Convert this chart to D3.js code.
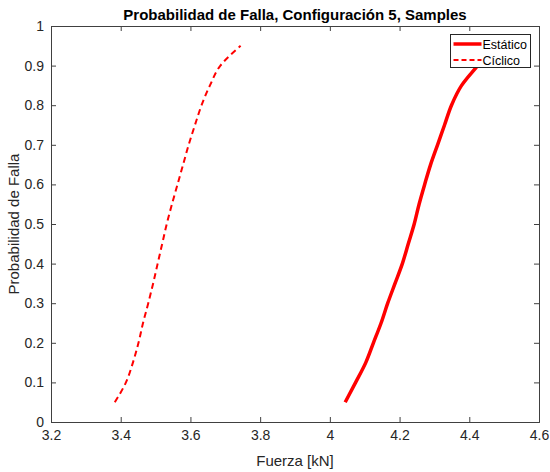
<!DOCTYPE html>
<html lang="en">
<head>
<meta charset="UTF-8">
<title>Probabilidad de Falla</title>
<script src="https://d3js.org/d3.v7.min.js"></script>
<style>
    body { margin: 0; background: #fff; }
    svg { display: block; font-family: "Liberation Sans", Arial, sans-serif; }
    .tick text { fill: #262626; font-size: 14px; }
</style>
</head>
<body>
<div id="chart"></div>
<script>
    // probabilities shared by both series
    const probs = [0.05, 0.10, 0.15, 0.20, 0.25, 0.30, 0.35, 0.40, 0.45, 0.50,
                   0.55, 0.60, 0.65, 0.70, 0.75, 0.80, 0.85, 0.90, 0.95];
    const estaticoX = [4.044, 4.074, 4.103, 4.125, 4.147, 4.166, 4.187, 4.208, 4.225, 4.242,
                       4.256, 4.272, 4.289, 4.309, 4.329, 4.349, 4.378, 4.424, 4.469];
    const ciclicoX = [3.383, 3.415, 3.435, 3.451, 3.464, 3.479, 3.493, 3.506, 3.519, 3.532,
                      3.547, 3.563, 3.579, 3.595, 3.613, 3.632, 3.656, 3.686, 3.744];
    const xTicks = [3.2, 3.4, 3.6, 3.8, 4, 4.2, 4.4, 4.6];
    const yTicks = [0, 0.1, 0.2, 0.3, 0.4, 0.5, 0.6, 0.7, 0.8, 0.9, 1];

    const width = 550, height = 472;
    const margin = {top: 26, right: 11, bottom: 50, left: 51};
    const iw = width - margin.left - margin.right;
    const ih = height - margin.top - margin.bottom;

    const svg = d3.select("#chart").append("svg")
        .attr("width", width).attr("height", height);

    const x = d3.scaleLinear().domain([3.2, 4.6]).range([0, iw]);
    const y = d3.scaleLinear().domain([0, 1]).range([ih, 0]);

    const g = svg.append("g").attr("transform", `translate(${margin.left},${margin.top})`);

    const axisColor = "#404040";

    // axes with inward ticks, box on
    g.append("g").attr("transform", `translate(0,${ih})`)
        .call(d3.axisBottom(x).tickValues(xTicks).tickSize(-5).tickPadding(8).tickFormat(d3.format("")));
    g.append("g")
        .call(d3.axisLeft(y).tickValues(yTicks).tickSize(-5).tickPadding(7).tickFormat(d3.format("")));
    g.append("g").call(d3.axisTop(x).tickValues(xTicks).tickSize(-5).tickFormat(""));
    g.append("g").attr("transform", `translate(${iw},0)`)
        .call(d3.axisRight(y).tickValues(yTicks).tickSize(-5).tickFormat(""));
    g.selectAll(".domain, .tick line").attr("stroke", axisColor);

    const line = d3.line().curve(d3.curveMonotoneY).x(d => x(d[0])).y(d => y(d[1]));

    const estatico = estaticoX.map((v, i) => [v, probs[i]]);
    const ciclico = ciclicoX.map((v, i) => [v, probs[i]]);

    g.append("path").datum(estatico)
        .attr("fill", "none").attr("stroke", "#ff0000")
        .attr("stroke-width", 3.5).attr("d", line);

    g.append("path").datum(ciclico)
        .attr("fill", "none").attr("stroke", "#ff0000")
        .attr("stroke-width", 2).attr("stroke-dasharray", "6,4").attr("d", line);

    // legend
    const lg = svg.append("g").attr("transform", "translate(450.5,34.5)");
    lg.append("rect").attr("width", 80).attr("height", 33)
        .attr("fill", "#fff").attr("stroke", "#262626").attr("stroke-width", 1);
    const items = [
        {name: "Estático", dash: null, w: 3.5},
        {name: "Cíclico", dash: "5,3", w: 2}
    ];
    items.forEach((it, i) => {
        const yy = 9.5 + i * 16;
        lg.append("line").attr("x1", 3).attr("x2", 31).attr("y1", yy).attr("y2", yy)
            .attr("stroke", "#ff0000").attr("stroke-width", it.w)
            .attr("stroke-dasharray", it.dash);
        lg.append("text").attr("x", 32).attr("y", yy + 4.5)
            .attr("font-size", 12.5).attr("fill", "#000").text(it.name);
    });

    // title and labels
    svg.append("text").attr("x", margin.left + iw / 2).attr("y", 20)
        .attr("text-anchor", "middle").attr("font-size", 15).attr("font-weight", "bold")
        .attr("fill", "#000").text("Probabilidad de Falla, Configuración 5, Samples");

    svg.append("text").attr("x", margin.left + iw / 2).attr("y", 466)
        .attr("text-anchor", "middle").attr("font-size", 15).attr("fill", "#262626")
        .text("Fuerza [kN]");

    svg.append("text").attr("transform", `translate(19,${margin.top + ih / 2}) rotate(-90)`)
        .attr("text-anchor", "middle").attr("font-size", 15).attr("fill", "#262626")
        .text("Probabilidad de Falla");
</script>
</body>
</html>
